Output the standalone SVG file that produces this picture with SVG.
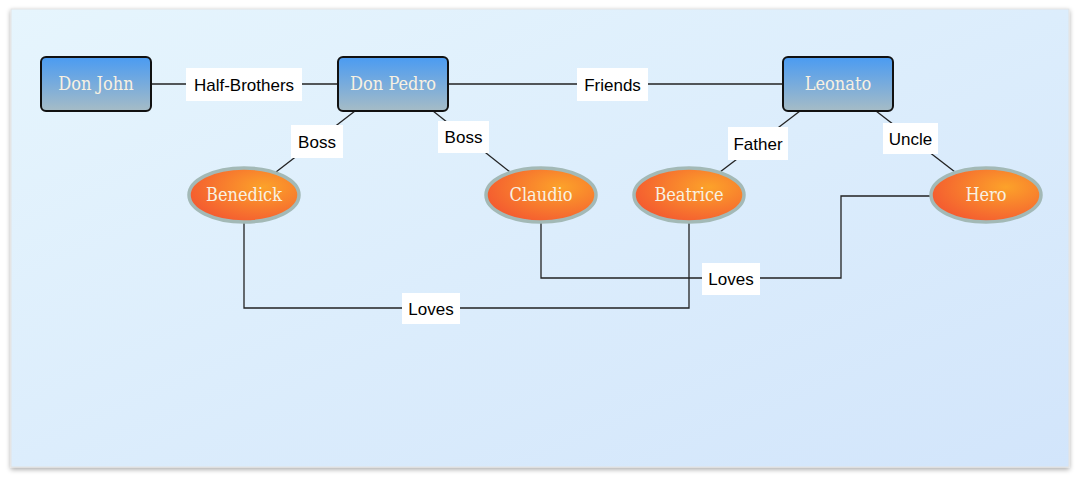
<svg xmlns="http://www.w3.org/2000/svg" width="1080" height="482" viewBox="0 0 1080 482">
  <defs>
    <linearGradient id="bg" x1="0" y1="0" x2="1" y2="1">
      <stop offset="0" stop-color="#e6f5fd"/>
      <stop offset="1" stop-color="#d2e5fb"/>
    </linearGradient>
    <linearGradient id="boxg" x1="0" y1="0" x2="0" y2="1">
      <stop offset="0" stop-color="#4a9bf2"/>
      <stop offset="1" stop-color="#a6bcc6"/>
    </linearGradient>
    <radialGradient id="ellg" cx="0.68" cy="0.35" r="0.7">
      <stop offset="0" stop-color="#fca22a"/>
      <stop offset="1" stop-color="#f45d30"/>
    </radialGradient>
    <filter id="shadow" x="-5%" y="-5%" width="110%" height="115%">
      <feGaussianBlur in="SourceAlpha" stdDeviation="2.5"/>
      <feOffset dx="0" dy="2"/>
      <feComponentTransfer><feFuncA type="linear" slope="0.35"/></feComponentTransfer>
      <feMerge><feMergeNode/><feMergeNode in="SourceGraphic"/></feMerge>
    </filter>
    <style>
      .box { fill: url(#boxg); stroke: #111; stroke-width: 2; }
      .ell { fill: url(#ellg); stroke: #a3b9b6; stroke-width: 3.5; }
      .ntext { font-family: "DejaVu Serif Condensed", "DejaVu Serif", serif; font-size: 18px; fill: #f8f1e2; text-anchor: middle; dominant-baseline: central; }
      .edge { fill: none; stroke: #222; stroke-width: 1.3; }
      .lblbg { fill: #ffffff; }
      .lbl { font-family: "Liberation Sans", Arial, sans-serif; font-size: 17px; fill: #000; text-anchor: middle; dominant-baseline: central; }
    </style>
  </defs>

  <rect x="0" y="0" width="1080" height="482" fill="#ffffff"/>
  <rect x="11" y="9" width="1058" height="458" fill="url(#bg)" stroke="#e3e3e3" stroke-width="1" filter="url(#shadow)"/>

  <g id="connectors">
    <line class="edge" x1="151" y1="84" x2="338" y2="84"/>
    <line class="edge" x1="448" y1="84" x2="783" y2="84"/>
    <line class="edge" x1="355" y1="111" x2="276" y2="172"/>
    <line class="edge" x1="433" y1="111" x2="510" y2="172"/>
    <line class="edge" x1="800" y1="111" x2="720" y2="172"/>
    <line class="edge" x1="876" y1="111" x2="955" y2="172"/>
    <polyline class="edge" points="244,223 244,308 689,308 689,223"/>
    <polyline class="edge" points="541,223 541,278 841,278 841,196 930,196"/>

    <g id="label-half-brothers">
      <rect class="lblbg" x="186" y="68" width="116" height="33"/>
      <text class="lbl" x="244" y="85">Half-Brothers</text>
    </g>
    <g id="label-friends">
      <rect class="lblbg" x="577" y="68" width="71" height="33"/>
      <text class="lbl" x="612.5" y="85">Friends</text>
    </g>
    <g id="label-boss1">
      <rect class="lblbg" x="291" y="125" width="52" height="33"/>
      <text class="lbl" x="317" y="142">Boss</text>
    </g>
    <g id="label-boss2">
      <rect class="lblbg" x="438" y="121" width="51" height="32"/>
      <text class="lbl" x="463.5" y="137.5">Boss</text>
    </g>
    <g id="label-father">
      <rect class="lblbg" x="728" y="127" width="60" height="33"/>
      <text class="lbl" x="758" y="144">Father</text>
    </g>
    <g id="label-uncle">
      <rect class="lblbg" x="883" y="123" width="55" height="31"/>
      <text class="lbl" x="910.5" y="139">Uncle</text>
    </g>
    <g id="label-loves1">
      <rect class="lblbg" x="402" y="293" width="58" height="31"/>
      <text class="lbl" x="431" y="309">Loves</text>
    </g>
    <g id="label-loves2">
      <rect class="lblbg" x="702" y="263" width="58" height="32"/>
      <text class="lbl" x="731" y="279">Loves</text>
    </g>
  </g>

  <g id="don-john">
    <rect class="box" x="41" y="57" width="110" height="54" rx="5"/>
    <text class="ntext" x="96" y="83">Don John</text>
  </g>
  <g id="don-pedro">
    <rect class="box" x="338" y="57" width="110" height="54" rx="5"/>
    <text class="ntext" x="393" y="83">Don Pedro</text>
  </g>
  <g id="leonato">
    <rect class="box" x="783" y="57" width="110" height="54" rx="5"/>
    <text class="ntext" x="838" y="83">Leonato</text>
  </g>
  <g id="benedick">
    <ellipse class="ell" cx="244" cy="195" rx="55" ry="27"/>
    <text class="ntext" x="244" y="194">Benedick</text>
  </g>
  <g id="claudio">
    <ellipse class="ell" cx="541" cy="195" rx="55" ry="27"/>
    <text class="ntext" x="541" y="194">Claudio</text>
  </g>
  <g id="beatrice">
    <ellipse class="ell" cx="689" cy="195" rx="55" ry="27"/>
    <text class="ntext" x="689" y="194">Beatrice</text>
  </g>
  <g id="hero">
    <ellipse class="ell" cx="986" cy="195" rx="55" ry="27"/>
    <text class="ntext" x="986" y="194">Hero</text>
  </g>
</svg>
